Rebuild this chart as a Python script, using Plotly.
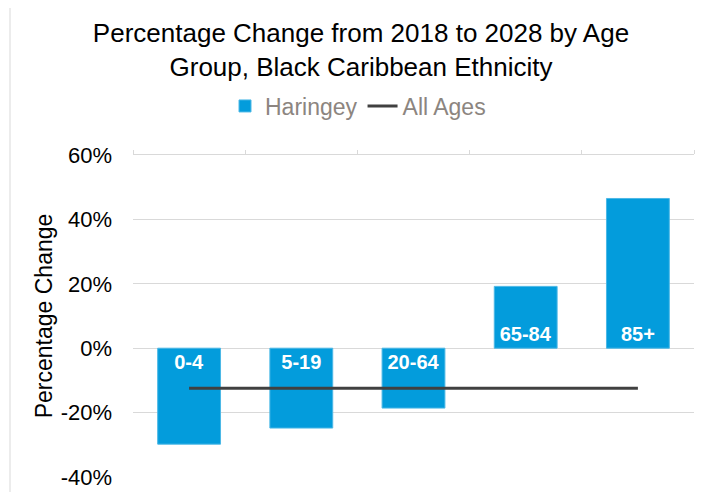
'''
Percentage change 2018-2028 by age group, Black Caribbean ethnicity
'''

# imports
from plotly.graph_objects import Bar, Scatter, Figure

# data
age_groups = ["0-4", "5-19", "20-64", "65-84", "85+"]
haringey = [-0.298, -0.248, -0.186, 0.192, 0.465]
all_ages = [-0.124, -0.124, -0.124, -0.124, -0.124]
y_ticks = [-0.4, -0.2, 0, 0.2, 0.4, 0.6]
y_tick_labels = ["-40%", "-20%", "0%", "20%", "40%", "60%"]

FONT = "Liberation Sans, Arial, sans-serif"
# the page has an 8px body margin, so the figure is drawn 8px in from the corner
OFF = 8
W, H = 703 - OFF, 492 - OFF
L, R, T, B = 133 - OFF, 9, 155 - OFF, 15


def pct_plot():
    '''
    bar chart + all ages line
    '''
    title = "Percentage Change from 2018 to 2028 by Age<br>Group, Black Caribbean Ethnicity"
    fig = Figure({'layout': {'title': {'text': title,
                                       'font': {'family': FONT, 'size': 26, 'color': "#000000"},
                                       'xref': "container", 'yref': "container",
                                       'x': (361 - OFF) / W, 'xanchor': "center",
                                       'y': 1 - (42 - OFF) / H, 'yanchor': "middle"},
                             'width': W, 'height': H,
                             'margin': {'l': L, 'r': R, 't': T, 'b': B, 'autoexpand': False},
                             'paper_bgcolor': "white", 'plot_bgcolor': "white",
                             'font': {'family': FONT, 'size': 22, 'color': "#000000"},
                             'showlegend': True,
                             'legend': {'orientation': "h",
                                        'xref': "container", 'yref': "container",
                                        'x': (358 - OFF) / W, 'xanchor': "center",
                                        'y': 1 - (106 - OFF) / H, 'yanchor': "middle",
                                        'font': {'size': 23, 'color': "#8c8580"},
                                        'itemwidth': 30, 'tracegroupgap': 0},
                             'bargap': 0.44,
                             'xaxis': {'type': "category", 'side': "top", 'automargin': False,
                                       'showticklabels': False, 'showgrid': False,
                                       'showline': True, 'linecolor': "#d9d9d9", 'linewidth': 1,
                                       'ticks': "outside", 'ticklen': 4, 'tickcolor': "#d9d9d9",
                                       'tickson': "boundaries",
                                       'range': [-0.5, 4.5]},
                             'yaxis': {'range': [-0.4, 0.6], 'automargin': False,
                                       'tickvals': y_ticks, 'ticktext': y_tick_labels,
                                       'showgrid': True, 'gridcolor': "#d9d9d9", 'gridwidth': 1,
                                       'zeroline': False,
                                       'ticklabelstandoff': 20,
                                       'tickfont': {'size': 22},
                                       'title': {'text': "Percentage Change",
                                                 'font': {'size': 23}, 'standoff': 1}},
                             }
                  })

    t1 = Bar(x=age_groups, y=haringey, name="Haringey", text=age_groups,
             textposition="inside", insidetextanchor="start", textangle=0,
             constraintext="none",
             textfont={'family': FONT, 'size': 20, 'color': "white", 'weight': "bold"},
             marker={'color': "#039cdc", 'line': {'color': "#4cb8e6", 'width': 1}},
             hoverinfo="skip")
    t2 = Scatter(x=age_groups, y=all_ages, name="All Ages", mode="lines",
                 line={'color': "#404040", 'width': 3})
    fig.add_trace(t1)
    fig.add_trace(t2)

    # light chart border (left edge visible)
    pw, ph = W - L - R, H - T - B
    fig.add_shape(type="rect", xref="paper", yref="paper",
                  x0=(10 - OFF - L) / pw, x1=(W + 20 - L) / pw,
                  y0=-(B + 20) / ph, y1=(H - B + 20) / ph,
                  line={'color': "#d9d9d9", 'width': 1}, layer="below")

    fig.write_html("out.html")
    return None


def main():
    '''
    main
    '''
    pct_plot()


if __name__ == "__main__":
    main()
